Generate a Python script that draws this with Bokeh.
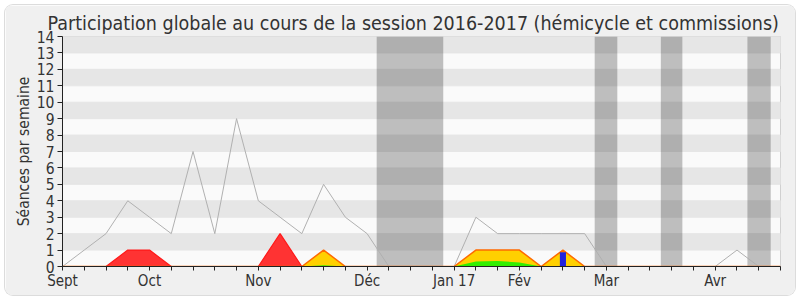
from bokeh.plotting import figure
from bokeh.models import FixedTicker, Range1d
from bokeh.embed import file_html
from bokeh.resources import INLINE

# ---- data (weekly index, week 0 = first week of September 2016) ----
weeks = list(range(34))
month_ticks = [0, 4, 9, 14, 18, 21, 25, 30]
month_labels = ["Sept", "Oct", "Nov", "Déc", "Jan 17", "Fév", "Mar", "Avr"]

# grey line: median participation
mediane = [0, 1, 2, 4, 3, 2, 7, 2, 9, 4, 3, 2, 5, 3, 2, 0, 0, 0,
           0, 3, 2, 2, 2, 2, 2, 0, 0, 0, 0, 0, 0, 1, 0, 0]
# red: présences en commission
commission = [0, 0, 0, 1, 1, 0, 0, 0, 0, 0, 2, 0, 0, 0, 0, 0, 0, 0,
              0, 0, 0, 0, 0, 0, 0, 0, 0, 0, 0, 0, 0, 0, 0, 0]
# yellow: présences en hémicycle
hemicycle = [0, 0, 0, 0, 0, 0, 0, 0, 0, 0, 0, 0, 1, 0, 0, 0, 0, 0,
             0, 1, 1, 1, 0, 1, 0, 0, 0, 0, 0, 0, 0, 0, 0, 0]
# green: interventions
interventions = [0, 0, 0, 0, 0, 0, 0, 0, 0, 0, 0, 0, 0.08, 0, 0, 0, 0, 0,
                 0, 0.3, 0.33, 0.25, 0, 0, 0, 0, 0, 0, 0, 0, 0, 0, 0, 0]
# blue: questions orales
questions_week = [23]
questions_val = [0.87]
# vacances parlementaires
vac_start = [14.44, 24.46, 27.5, 31.48]
vac_end = [17.5, 25.5, 28.49, 32.55]

Y_MAX = 14
X_MAX = 33

FONT = "DejaVu Sans Condensed, DejaVu Sans"

p = figure(width=790, height=290, output_backend="svg", toolbar_location=None,
           x_range=Range1d(0, X_MAX), y_range=Range1d(0, Y_MAX),
           min_border_left=57, min_border_right=15, min_border_top=31,
           min_border_bottom=29, margin=(5, 5, 5, 5),
           styles={"border-radius": "8px", "overflow": "hidden",
                   "box-shadow": "0 0 0 1px #dcdcdc"})
p.border_fill_color = "#f0f0f0"
p.background_fill_color = "#fafafa"
p.outline_line_color = "#d0d0d0"
p.grid.visible = False

p.title.text = "Participation globale au cours de la session 2016-2017 (hémicycle et commissions)"
p.title.text_font = FONT
p.title.text_font_size = "19.5px"
p.title.text_font_style = "normal"
p.title.text_color = "#333333"
p.title.align = "left"
p.title.standoff = 3
p.title.offset = -15

# stripes
stripe_rows = [r + 0.5 for r in range(1, Y_MAX, 2)]
p.hbar(y=stripe_rows, height=1, left=0, right=X_MAX, color="#e6e6e6")

# vacation bands
p.quad(left=vac_start, right=vac_end, bottom=0, top=Y_MAX,
       fill_color="#000000", fill_alpha=0.24, line_color=None)

# median line
p.line(weeks, mediane, line_color="#b0b0b0", line_width=1)

# areas
p.varea(x=weeks, y1=0, y2=commission, fill_color="#ff3333")
p.line(weeks, commission, line_color="#ff1a1a", line_width=1.2)
p.varea(x=weeks, y1=0, y2=hemicycle, fill_color="#ffd000")
p.line(weeks, hemicycle, line_color="#ff6a00", line_width=1.5)
p.varea(x=weeks, y1=0, y2=interventions, fill_color="#33ee00")
p.vbar(x=questions_week, top=questions_val, width=0.28, fill_color="#2222dd",
       line_color=None)

# axes
xa = p.xaxis[0]
xa.ticker = FixedTicker(ticks=weeks)
xa.major_label_overrides = {w: "" for w in weeks}
xa.major_label_overrides.update({t: l for t, l in zip(month_ticks, month_labels)})
xa.major_tick_out = 4
xa.major_tick_in = 0
xa.minor_tick_line_color = None
xa.axis_line_color = "#222222"
xa.major_tick_line_color = "#222222"
xa.major_label_text_font = FONT
xa.major_label_text_font_size = "15px"
xa.major_label_text_color = "#333333"
xa.major_label_standoff = 1

ya = p.yaxis[0]
ya.ticker = FixedTicker(ticks=list(range(0, Y_MAX + 1)))
ya.major_tick_out = 5
ya.major_tick_in = 0
ya.minor_tick_line_color = None
ya.axis_line_color = "#222222"
ya.major_tick_line_color = "#222222"
ya.major_label_text_font = FONT
ya.major_label_text_font_size = "15.5px"
ya.major_label_text_color = "#333333"
ya.major_label_standoff = 3
ya.axis_label = "Séances par semaine"
ya.axis_label_text_font = FONT
ya.axis_label_text_font_size = "15.5px"
ya.axis_label_text_font_style = "normal"
ya.axis_label_text_color = "#333333"
ya.axis_label_standoff = 1

open("out.html", "w").write(file_html(p, INLINE))
